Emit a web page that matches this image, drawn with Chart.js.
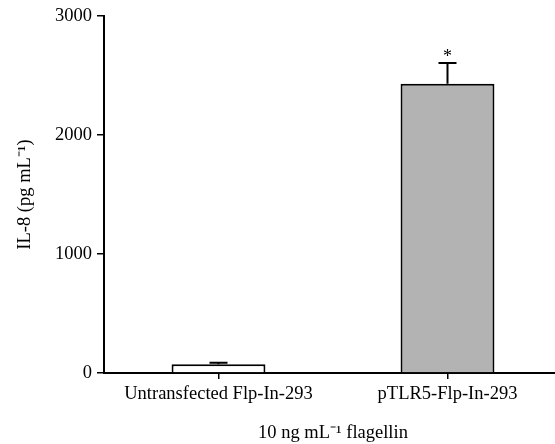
<!DOCTYPE html>
<html>
<head>
<meta charset="utf-8">
<script src="https://cdn.jsdelivr.net/npm/chart.js@4.4.1/dist/chart.umd.min.js"></script>
<style>
  html, body { margin: 0; padding: 0; background: #fff; overflow: hidden; }
  #wrap { width: 562px; height: 444px; }
</style>
</head>
<body>
<div id="wrap"><canvas id="il8Chart"></canvas></div>
<script>
// values
const groups = ["Untransfected Flp-In-293", "pTLR5-Flp-In-293"];
const il8Mean = [73, 2431];
const il8Err = [13, 174];
const marks = ["", "*"];
const yTicks = [0, 1000, 2000, 3000];

const FONT = "'Liberation Serif', 'Times New Roman', serif";
const FS = 18.5;

// error bars + significance mark, positioned via the chart scales
const errorBars = {
  id: "errorBars",
  afterDatasetsDraw(chart) {
    const ctx = chart.ctx;
    const y = chart.scales.y;
    const meta = chart.getDatasetMeta(0);
    ctx.save();
    ctx.strokeStyle = "#000";
    ctx.lineWidth = 2;
    meta.data.forEach((bar, i) => {
      const top = y.getPixelForValue(il8Mean[i] + il8Err[i]);
      const base = y.getPixelForValue(il8Mean[i]);
      ctx.beginPath();
      ctx.moveTo(bar.x, base);
      ctx.lineTo(bar.x, top);
      ctx.moveTo(bar.x - 9, top);
      ctx.lineTo(bar.x + 9, top);
      ctx.stroke();
      if (marks[i]) {
        ctx.fillStyle = "#000";
        ctx.font = "18px " + FONT;
        ctx.textAlign = "center";
        ctx.textBaseline = "bottom";
        ctx.fillText(marks[i], bar.x, top + 3);
      }
    });
    ctx.restore();
  }
};

new Chart(document.getElementById("il8Chart"), {
  type: "bar",
  data: {
    labels: groups,
    datasets: [{
      data: il8Mean,
      backgroundColor: ["#ffffff", "#b3b3b3"],
      borderColor: "#000",
      borderWidth: 2,
      barPercentage: 0.41,
      categoryPercentage: 1
    }]
  },
  options: {
    responsive: true,
    maintainAspectRatio: false,
    animation: false,
    layout: { padding: { top: 16, left: 0, right: 0, bottom: 0 } },
    plugins: { legend: { display: false }, tooltip: { enabled: false } },
    scales: {
      x: {
        afterFit(s) { s.height = 71; },
        border: { color: "#000", width: 2 },
        grid: { offset: false, drawOnChartArea: false, color: "#000", lineWidth: 1.5, tickLength: 6 },
        ticks: { color: "#000", padding: 4, font: { family: FONT, size: FS } },
        title: {
          display: true,
          text: "10 ng mL\u207B\u00B9 flagellin",
          color: "#000",
          font: { family: FONT, size: FS },
          padding: { top: 0, bottom: 0 }
        }
      },
      y: {
        min: 0,
        max: 3000,
        afterFit(s) { s.width = 104; },
        afterBuildTicks(s) { s.ticks = yTicks.map(v => ({ value: v })); },
        border: { color: "#000", width: 2 },
        grid: { drawOnChartArea: false, color: "#000", lineWidth: 1.5, tickLength: 7 },
        ticks: {
          color: "#000",
          padding: 5,
          font: { family: FONT, size: FS },
          callback: v => String(v)
        },
        title: {
          display: true,
          text: "IL-8 (pg mL\u207B\u00B9)",
          color: "#000",
          font: { family: FONT, size: FS },
          padding: { top: 14, bottom: 0 }
        }
      }
    }
  },
  plugins: [errorBars]
});
</script>
</body>
</html>
